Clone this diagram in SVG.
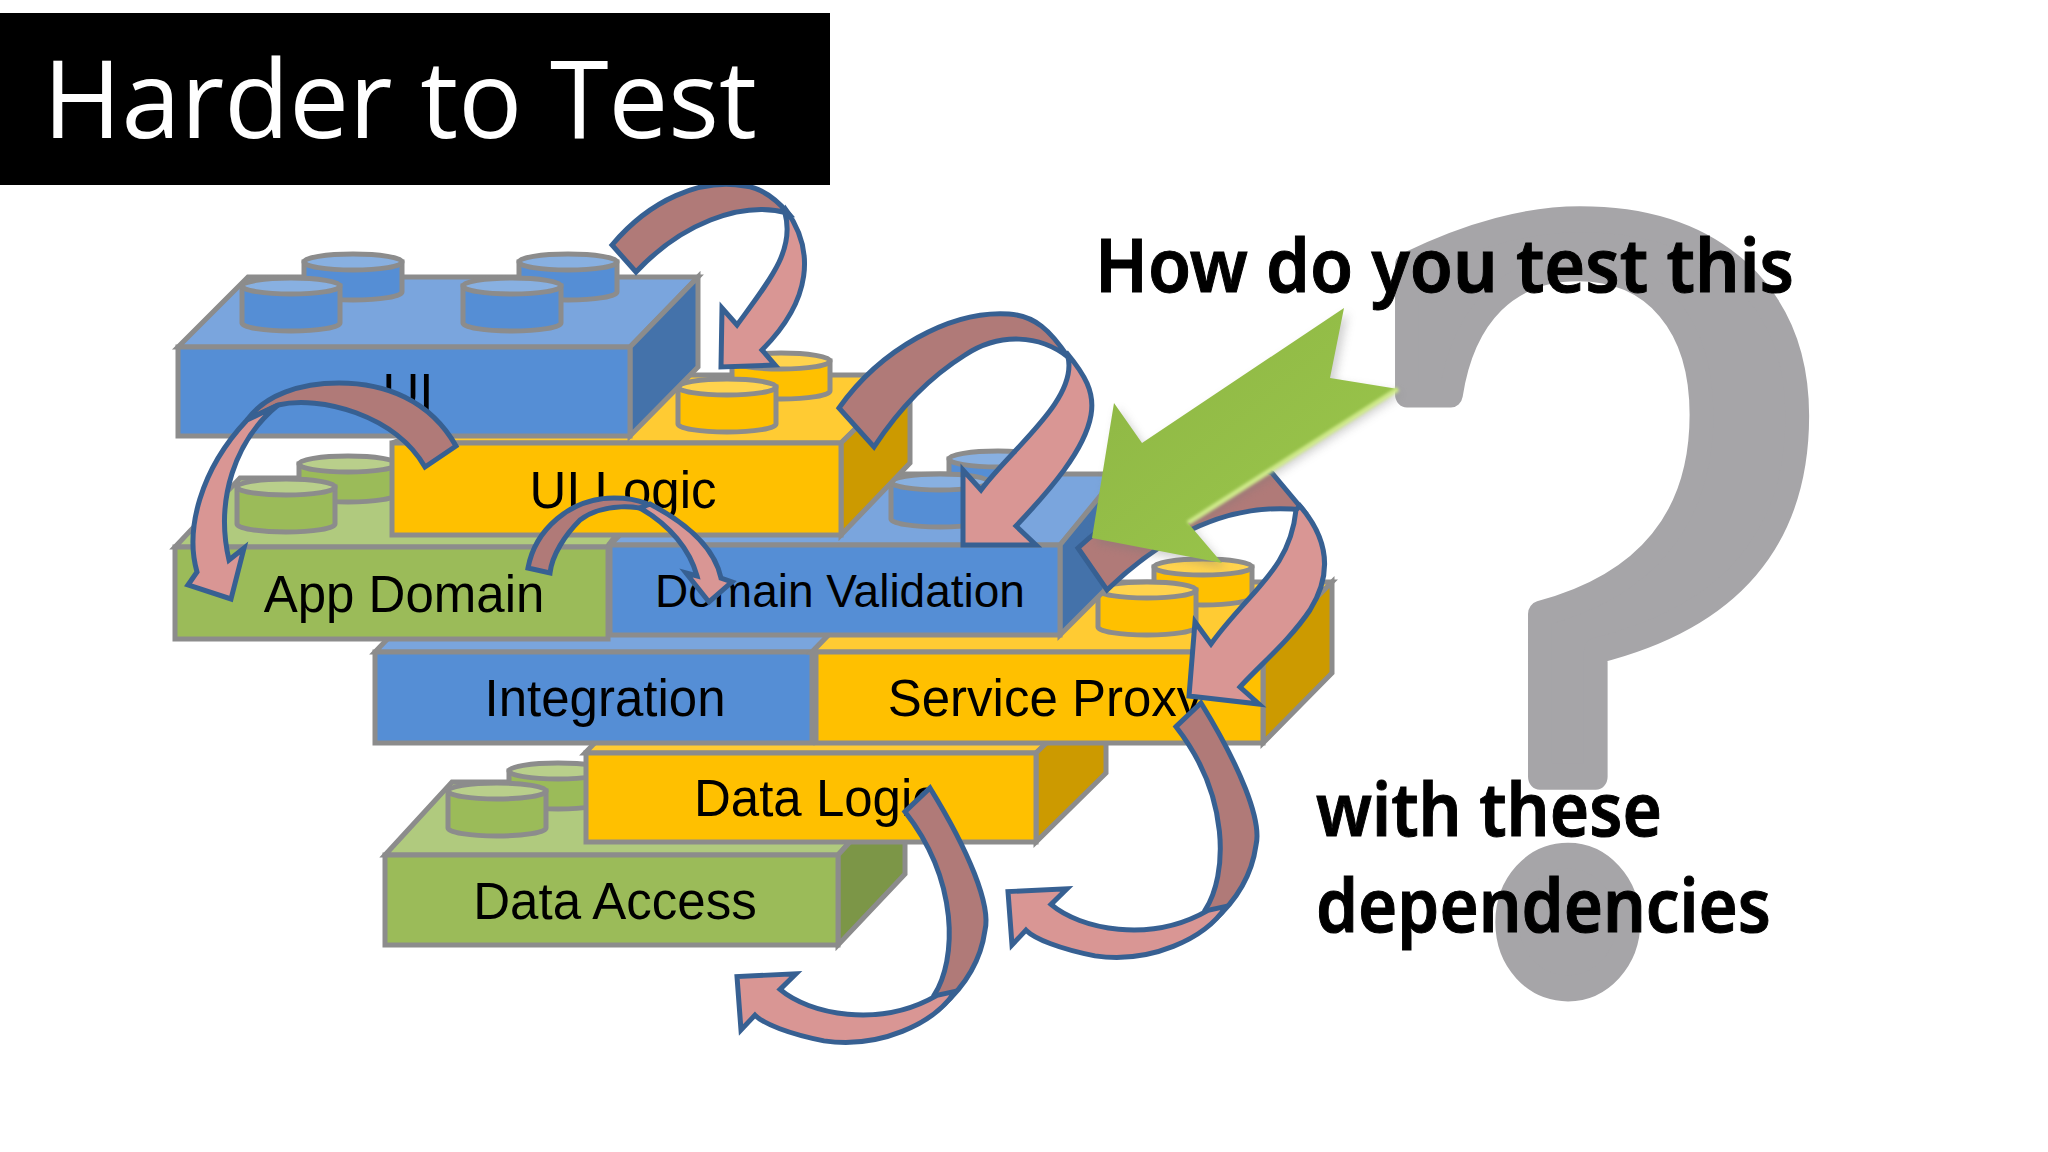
<svg xmlns="http://www.w3.org/2000/svg" width="2048" height="1152" viewBox="0 0 2048 1152">
<style>
.s{stroke:#8c8c8c;stroke-width:5;stroke-linejoin:miter}
.bf{fill:#558ed5}.bt{fill:#7aa5dd}.bd{fill:#4472aa}
.yf{fill:#ffc000}.yt{fill:#ffcb33}.yd{fill:#cc9a00}
.gf{fill:#9bbb59}.gt{fill:#b0ca7e}.gd{fill:#7c9647}
.l{font-family:"Liberation Sans",Arial,sans-serif;font-size:51px;fill:#000;text-anchor:middle}
.q{font-family:"Noto Sans",sans-serif;font-weight:600;fill:#000;stroke:#000;stroke-width:1}
.back{fill:#b07a78;stroke:#376092;stroke-width:5;stroke-linejoin:miter}
.front{fill:#d99694;stroke:#376092;stroke-width:5;stroke-linejoin:miter}
</style>
<defs>
<g id="stud"><path class="s" d="M-49,0V37A49,8 0 0 0 49,37V0Z"/><ellipse rx="49" ry="8"/><ellipse class="s" rx="49" ry="8" fill="#fff" fill-opacity=".3"/></g>
<g id="stud2"><path class="s" d="M-49,0V30A49,8 0 0 0 49,30V0Z"/><ellipse rx="49" ry="8"/><ellipse class="s" rx="49" ry="8" fill="#fff" fill-opacity=".3"/></g>
<g id="down" transform="translate(0,450) scale(1,.988) translate(0,-450)"><path class="back" d="M1176,730L1201,706C1240,770 1262,825 1256,850C1252,880 1238,905 1212,928L1205,916C1228,880 1230,800 1176,730Z"/><path class="front" d="M1226,912C1205,945 1150,970 1095,962C1060,955 1035,945 1026,936L1012,951L1008,897L1067,894L1051,910C1080,935 1150,950 1208,916Z"/></g>
<linearGradient id="gr" x1="0" y1="0" x2="1" y2="1"><stop offset="0" stop-color="#8db544"/><stop offset="1" stop-color="#9cc84c"/></linearGradient>
<filter id="soft" x="-10%" y="-10%" width="120%" height="120%"><feGaussianBlur stdDeviation="1.5"/></filter>
<filter id="shad" x="-10%" y="-10%" width="120%" height="120%"><feGaussianBlur stdDeviation="5"/></filter>
</defs>
<rect width="2048" height="1152" fill="#fff"/>
<g id="question"><text transform="translate(1593,974) scale(.914,1)" font-family="'DejaVu Serif',serif" font-size="1017" fill="#a6a5a8" stroke="#a6a5a8" stroke-width="26" stroke-linejoin="round" text-anchor="middle">?</text></g>
<g id="data-access">
<polygon class="s gt" points="385,855 452,782 905,782 838,855"/><polygon class="s gd" points="838,855 905,782 905,874 838,945"/>
<use href="#stud2" x="558" y="771" class="gf"/><use href="#stud" x="497" y="791" class="gf"/>
<rect class="s gf" x="385" y="855" width="453" height="90"/><text class="l" x="615" y="919">Data Access</text></g>
<g id="data-logic">
<polygon class="s yt" points="585,753 650,686 1106,686 1036,753"/><polygon class="s yd" points="1036,753 1106,686 1106,773 1036,842"/>
<rect class="s yf" x="586" y="753" width="450" height="89"/><text class="l" x="694" y="816" style="text-anchor:start">Data Logic</text></g>
<g id="integration">
<polygon class="s bt" points="375,652 442,582 880,582 812,652"/>
<rect class="s bf" x="375" y="652" width="437" height="91"/><text class="l" x="605" y="716">Integration</text></g>
<g id="service-proxy">
<polygon class="s yt" points="812,652 880,582 1332,582 1263,652"/><polygon class="s yd" points="1263,652 1332,582 1332,673 1263,743"/>
<use href="#stud2" x="1203" y="567" class="yf"/><use href="#stud" x="1147" y="590" class="yf"/>
<rect class="s yf" x="816" y="652" width="447" height="91"/><text class="l" x="1045" y="716">Service Proxy</text></g>
<g id="app-domain">
<polygon class="s gt" points="175,547 240,478 660,478 607,547"/>
<use href="#stud2" x="348" y="464" class="gf"/><use href="#stud" x="286" y="487" class="gf"/>
<rect class="s gf" x="175" y="547" width="433" height="92"/><text class="l" x="404" y="612">App Domain</text></g>
<g id="domain-validation">
<polygon class="s bt" points="610,545 680,474 1120,474 1060,545"/><polygon class="s bd" points="1060,545 1105,490 1105,590 1060,635"/>
<use href="#stud2" x="998" y="459" class="bf"/><use href="#stud" x="940" y="482" class="bf"/>
<rect class="s bf" x="610" y="545" width="450" height="90"/><text class="l" x="840" y="607" style="font-size:46px">Domain Validation</text></g>
<g id="ui-logic">
<polygon class="s yt" points="392,443 560,375 910,375 841,443"/><polygon class="s yd" points="841,443 910,375 910,463 841,535"/>
<use href="#stud2" x="781" y="361" class="yf"/><use href="#stud" x="727" y="387" class="yf"/>
<rect class="s yf" x="392" y="443" width="449" height="92"/><text class="l" x="623" y="508">UI Logic</text></g>
<g id="ui">
<polygon class="s bt" points="178,347 248,277 698,277 630,347"/><polygon class="s bd" points="630,347 698,277 698,367 630,436"/>
<use href="#stud2" x="353" y="262" class="bf"/><use href="#stud2" x="568" y="262" class="bf"/><use href="#stud" x="291" y="286" class="bf"/><use href="#stud" x="512" y="286" class="bf"/>
<rect class="s bf" x="178" y="347" width="452" height="89"/><text class="l" x="408" y="410">UI</text></g>
<g id="connectors">
<g id="c1"><path class="back" d="M612,245C650,200 700,178 745,186C762,188 775,198 788,213C740,200 680,225 636,272Z"/><path class="front" d="M786,210C815,250 812,300 762,350L775,365L721,367L722,308L737,325C770,280 795,250 785,213Z"/></g>
<g id="c2"><path class="back" d="M839,408C880,350 950,310 1009,314C1035,316 1050,330 1068,357C1040,335 1000,332 965,355C925,380 895,415 874,447Z"/><path class="front" d="M1066,352C1085,375 1095,392 1091,415C1085,450 1050,490 1016,526L1036,545L963,545L963,470L981,490C1010,450 1078,400 1068,357Z"/></g>
<g id="c3"><path class="back" d="M456,446C430,400 385,383 339,383C300,383 265,395 247,420L278,405C320,395 395,415 425,467Z"/><path class="front" d="M247,420C200,470 185,530 197,572L188,585L231,599L244,548L229,560C215,500 235,440 278,405Z"/></g>
<g id="c4"><path class="back" d="M528,568C535,530 570,498 614,498C640,498 655,505 668,520C640,500 600,505 580,520C565,535 552,555 550,573Z"/><path class="front" d="M650,504C690,525 715,550 721,578L732,582L709,602L686,573L697,576C690,550 670,525 640,508Z"/></g>
<g id="c5"><path class="back" d="M1078,548C1130,500 1220,450 1272,473L1303,510C1260,505 1190,510 1107,590Z"/><path class="front" d="M1300,506C1325,535 1335,570 1310,610C1290,640 1260,665 1240,687L1259,704L1189,696L1195,622L1211,644C1250,590 1290,570 1296,510Z"/></g>
<use id="c6" href="#down"/>
<use id="c7" href="#down" x="-271" y="85"/>
</g>
<g id="green-arrow">
<polygon points="1344,308 1330,378 1398,389 1188,523 1222,563 1092,538 1114,403 1142,443" fill="#777" opacity=".35" filter="url(#shad)" transform="translate(4,5)"/>
<polygon points="1344,308 1330,378 1398,389 1188,523 1222,563 1092,538 1114,403 1142,443" fill="url(#gr)"/>
<polyline points="1398,389 1188,523" fill="none" stroke="#cfe98a" stroke-width="5" filter="url(#soft)"/>
</g>
<g id="labels">
<text class="q" x="1095" y="292" font-size="74" textLength="699" lengthAdjust="spacingAndGlyphs">How do you test this</text>
<text class="q" x="1316" y="836" font-size="74" textLength="346" lengthAdjust="spacingAndGlyphs">with these</text>
<text class="q" x="1316" y="932" font-size="74" textLength="455" lengthAdjust="spacingAndGlyphs">dependencies</text>
</g>
<g id="title"><rect x="0" y="13" width="830" height="172" fill="#000"/><text x="43" y="138" font-family="'Open Sans',sans-serif" font-size="108" fill="#fff" textLength="714" lengthAdjust="spacingAndGlyphs">Harder to Test</text></g>
</svg>
